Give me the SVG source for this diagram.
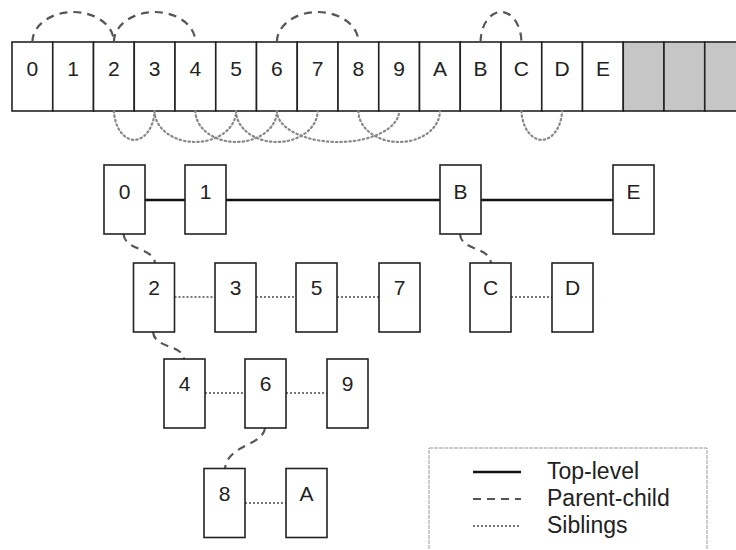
<svg xmlns="http://www.w3.org/2000/svg" width="736" height="550" viewBox="0 0 736 550">
<style>
.cell{fill:#fff;stroke:#222;stroke-width:1.6}
.gray{fill:#c6c6c6;stroke:#222;stroke-width:1.6}
.node{fill:#fff;stroke:#222;stroke-width:1.6}
.lbl{font-family:"Liberation Sans",Arial,sans-serif;font-size:21px;fill:#222;text-anchor:middle}
.top{fill:none;stroke:#111;stroke-width:2.6}
.pc{fill:none;stroke:#555;stroke-width:2.2;stroke-dasharray:8,6}
.sib{fill:none;stroke:#777;stroke-width:2;stroke-dasharray:2,2}
.arcsib{fill:none;stroke:#888;stroke-width:2.2;stroke-dasharray:1.5,3;stroke-linecap:round}
.leg{font-family:"Liberation Sans",Arial,sans-serif;font-size:23px;fill:#222}
</style>
<rect x="0" y="0" width="736" height="550" fill="#fff"/>
<g id="array">
<rect class="cell" x="12" y="42" width="40.75" height="69"/>
<rect class="cell" x="52.75" y="42" width="40.75" height="69"/>
<rect class="cell" x="93.5" y="42" width="40.75" height="69"/>
<rect class="cell" x="134.25" y="42" width="40.75" height="69"/>
<rect class="cell" x="175" y="42" width="40.75" height="69"/>
<rect class="cell" x="215.75" y="42" width="40.75" height="69"/>
<rect class="cell" x="256.5" y="42" width="40.75" height="69"/>
<rect class="cell" x="297.25" y="42" width="40.75" height="69"/>
<rect class="cell" x="338" y="42" width="40.75" height="69"/>
<rect class="cell" x="378.75" y="42" width="40.75" height="69"/>
<rect class="cell" x="419.5" y="42" width="40.75" height="69"/>
<rect class="cell" x="460.25" y="42" width="40.75" height="69"/>
<rect class="cell" x="501" y="42" width="40.75" height="69"/>
<rect class="cell" x="541.75" y="42" width="40.75" height="69"/>
<rect class="cell" x="582.5" y="42" width="40.75" height="69"/>
<rect class="gray" x="623.25" y="42" width="40.75" height="69"/>
<rect class="gray" x="664" y="42" width="40.75" height="69"/>
<rect class="gray" x="704.75" y="42" width="40.75" height="69"/>
<text class="lbl" x="32.4" y="75.5">0</text>
<text class="lbl" x="73.1" y="75.5">1</text>
<text class="lbl" x="113.9" y="75.5">2</text>
<text class="lbl" x="154.6" y="75.5">3</text>
<text class="lbl" x="195.4" y="75.5">4</text>
<text class="lbl" x="236.1" y="75.5">5</text>
<text class="lbl" x="276.9" y="75.5">6</text>
<text class="lbl" x="317.6" y="75.5">7</text>
<text class="lbl" x="358.4" y="75.5">8</text>
<text class="lbl" x="399.1" y="75.5">9</text>
<text class="lbl" x="439.9" y="75.5">A</text>
<text class="lbl" x="480.6" y="75.5">B</text>
<text class="lbl" x="521.4" y="75.5">C</text>
<text class="lbl" x="562.1" y="75.5">D</text>
<text class="lbl" x="602.9" y="75.5">E</text>
</g>
<g id="connectors">
<path class="pc" d="M32.4,42 A40.75,30 0 0 1 113.9,42"/>
<path class="pc" d="M113.9,42 A40.75,30 0 0 1 195.4,42"/>
<path class="pc" d="M276.9,42 A40.75,30 0 0 1 358.4,42"/>
<path class="pc" d="M480.6,42 A20.4,30 0 0 1 521.4,42"/>
<path class="arcsib" d="M113.9,111 A20.4,31 0 0 0 154.6,111"/>
<path class="arcsib" d="M154.6,111 A40.75,31 0 0 0 236.1,111"/>
<path class="arcsib" d="M236.1,111 A40.75,31 0 0 0 317.6,111"/>
<path class="arcsib" d="M195.4,111 A40.75,31 0 0 0 276.9,111"/>
<path class="arcsib" d="M276.9,111 A61.1,31 0 0 0 399.1,111"/>
<path class="arcsib" d="M358.4,111 A40.75,31 0 0 0 439.9,111"/>
<path class="arcsib" d="M521.4,111 A20.4,31 0 0 0 562.1,111"/>
<path class="top" d="M145,200 H185 M226,200 H440 M481,200 H613"/>
<path class="sib" d="M174.5,297 H215 M256,297 H296 M337,297 H379 M511,297 H552"/>
<path class="sib" d="M205,393 H245 M286,393 H327"/>
<path class="sib" d="M245,503 H286"/>
<path class="pc" d="M123.5,234 C125,251 153,247 155,263"/>
<path class="pc" d="M153,332 C155,349 182,344 184,359"/>
<path class="pc" d="M265,428 C263,446 228,444 225,468.5"/>
<path class="pc" d="M460,234 C461,251 489,246 491,263"/>
</g>
<g id="n0"><rect class="node" x="104" y="165" width="41" height="69"/><text class="lbl" x="124.5" y="198.5">0</text></g>
<g id="n1"><rect class="node" x="185" y="165" width="41" height="69"/><text class="lbl" x="205.5" y="198.5">1</text></g>
<g id="nB"><rect class="node" x="440" y="165" width="41" height="69"/><text class="lbl" x="460.5" y="198.5">B</text></g>
<g id="nE"><rect class="node" x="613" y="165" width="41" height="69"/><text class="lbl" x="633.5" y="198.5">E</text></g>
<g id="n2"><rect class="node" x="133.5" y="263" width="41" height="69"/><text class="lbl" x="154" y="295">2</text></g>
<g id="n3"><rect class="node" x="215" y="263" width="41" height="69"/><text class="lbl" x="235.5" y="295">3</text></g>
<g id="n5"><rect class="node" x="296" y="263" width="41" height="69"/><text class="lbl" x="316.5" y="295">5</text></g>
<g id="n7"><rect class="node" x="379" y="263" width="41" height="69"/><text class="lbl" x="399.5" y="295">7</text></g>
<g id="nC"><rect class="node" x="470" y="263" width="41" height="69"/><text class="lbl" x="490.5" y="295">C</text></g>
<g id="nD"><rect class="node" x="552" y="263" width="41" height="69"/><text class="lbl" x="572.5" y="295">D</text></g>
<g id="n4"><rect class="node" x="164" y="359" width="41" height="69"/><text class="lbl" x="184.5" y="391">4</text></g>
<g id="n6"><rect class="node" x="245" y="359" width="41" height="69"/><text class="lbl" x="265.5" y="391">6</text></g>
<g id="n9"><rect class="node" x="327" y="359" width="41" height="69"/><text class="lbl" x="347.5" y="391">9</text></g>
<g id="n8"><rect class="node" x="204" y="468.5" width="41" height="69"/><text class="lbl" x="224.5" y="500.5">8</text></g>
<g id="nA"><rect class="node" x="286" y="468.5" width="41" height="69"/><text class="lbl" x="306.5" y="500.5">A</text></g>
<g id="legend">
<rect x="429" y="448" width="278" height="115" fill="#fff" stroke="#999" stroke-width="1" stroke-dasharray="4,1"/>
<line class="top" x1="473" y1="472" x2="521" y2="472"/>
<line class="pc" x1="473" y1="499" x2="521" y2="499"/>
<line class="sib" x1="473" y1="526" x2="521" y2="526"/>
<text class="leg" x="547" y="479">Top-level</text>
<text class="leg" x="547" y="506">Parent-child</text>
<text class="leg" x="547" y="533">Siblings</text>
</g>
</svg>
